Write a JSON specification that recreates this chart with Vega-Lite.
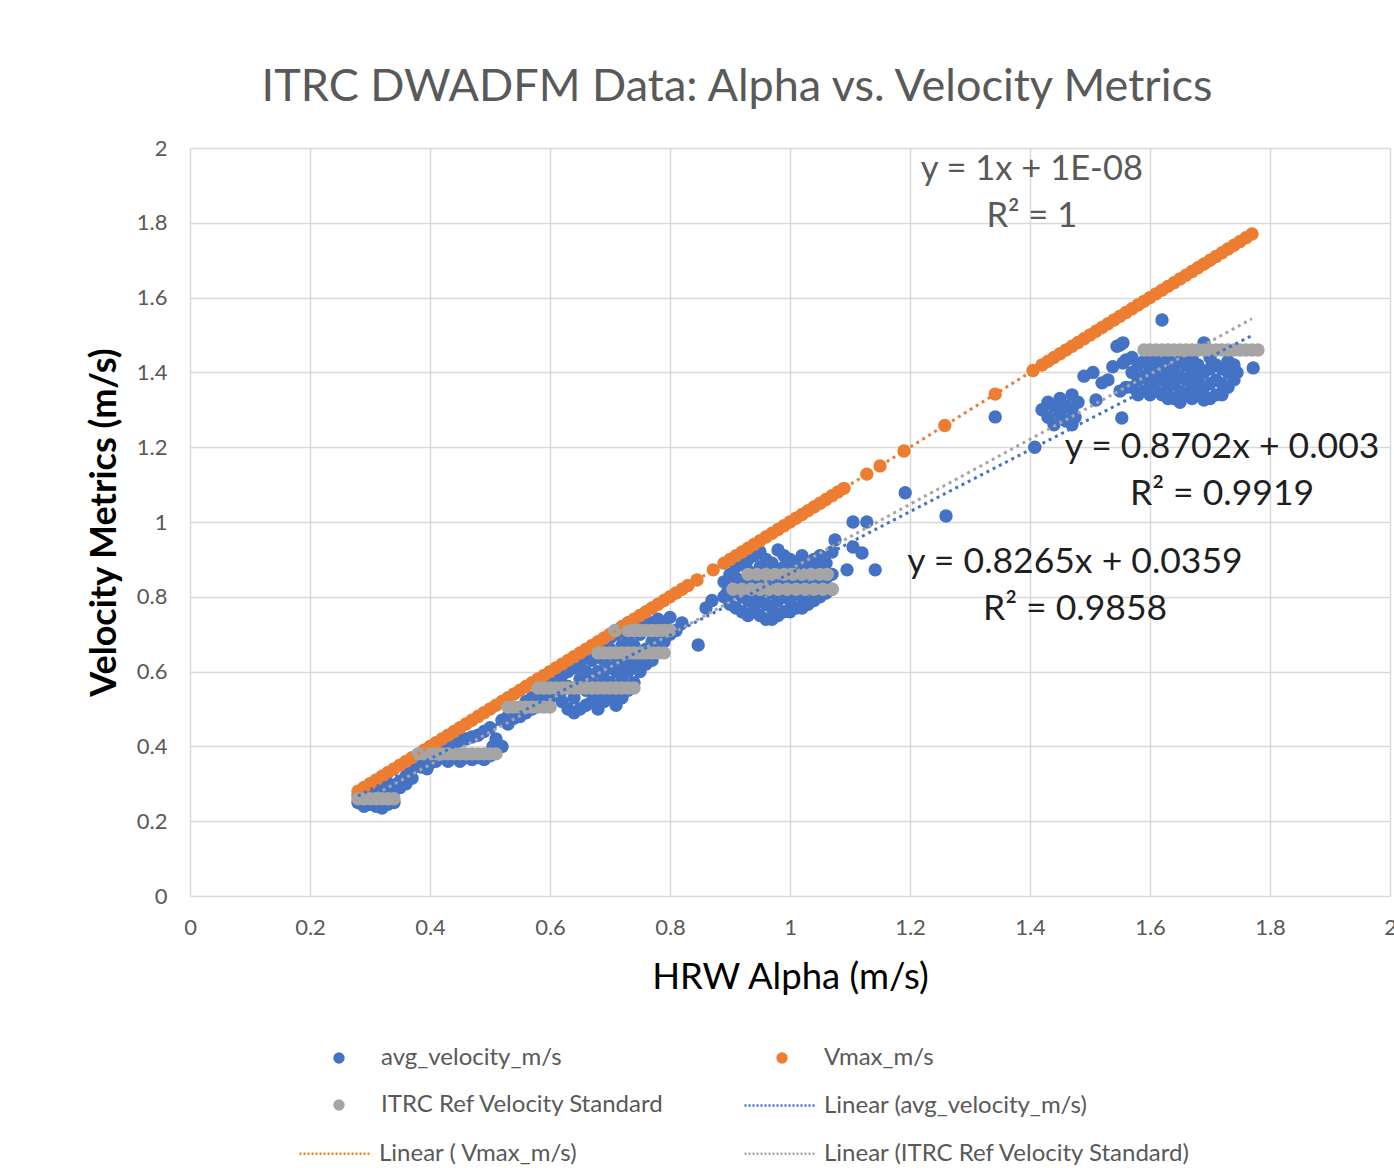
{
"$schema": "https://vega.github.io/schema/vega-lite/v6.json",
"width": 1200,
"height": 748,
"autosize": {"type": "none"},
"padding": {"left": 190, "top": 148, "right": 4, "bottom": 272},
"background": "white",
"title": {"text": "ITRC DWADFM Data: Alpha vs. Velocity Metrics", "font": "Lato", "fontSize": 45, "fontWeight": "normal", "color": "#595959", "anchor": "middle", "dx": -53, "baseline": "alphabetic", "offset": -9},
"datasets": {
"avg": [
{"alpha":0.28,"velocity":0.25},{"alpha":0.28,"velocity":0.27},{"alpha":0.29,"velocity":0.24},{"alpha":0.29,"velocity":0.28},{"alpha":0.30,"velocity":0.245},{"alpha":0.30,"velocity":0.27},{"alpha":0.30,"velocity":0.29},{"alpha":0.31,"velocity":0.24},{"alpha":0.31,"velocity":0.26},{"alpha":0.31,"velocity":0.29},{"alpha":0.32,"velocity":0.235},{"alpha":0.32,"velocity":0.255},{"alpha":0.32,"velocity":0.28},{"alpha":0.33,"velocity":0.245},{"alpha":0.33,"velocity":0.27},{"alpha":0.33,"velocity":0.30},{"alpha":0.34,"velocity":0.25},{"alpha":0.34,"velocity":0.28},{"alpha":0.345,"velocity":0.30},{"alpha":0.35,"velocity":0.29},{"alpha":0.355,"velocity":0.31},{"alpha":0.36,"velocity":0.30},{"alpha":0.36,"velocity":0.32},{"alpha":0.365,"velocity":0.33},{"alpha":0.37,"velocity":0.315},{"alpha":0.37,"velocity":0.34},{"alpha":0.375,"velocity":0.35},
{"alpha":0.38,"velocity":0.36},{"alpha":0.385,"velocity":0.345},{"alpha":0.39,"velocity":0.37},{"alpha":0.395,"velocity":0.34},{"alpha":0.40,"velocity":0.355},{"alpha":0.40,"velocity":0.39},{"alpha":0.41,"velocity":0.36},{"alpha":0.41,"velocity":0.40},{"alpha":0.42,"velocity":0.37},{"alpha":0.42,"velocity":0.395},{"alpha":0.43,"velocity":0.36},{"alpha":0.43,"velocity":0.41},{"alpha":0.44,"velocity":0.37},{"alpha":0.44,"velocity":0.40},{"alpha":0.45,"velocity":0.36},{"alpha":0.45,"velocity":0.415},{"alpha":0.46,"velocity":0.37},{"alpha":0.46,"velocity":0.42},{"alpha":0.47,"velocity":0.365},{"alpha":0.47,"velocity":0.425},{"alpha":0.48,"velocity":0.37},{"alpha":0.48,"velocity":0.43},{"alpha":0.49,"velocity":0.365},{"alpha":0.49,"velocity":0.44},{"alpha":0.50,"velocity":0.375},{"alpha":0.50,"velocity":0.45},{"alpha":0.505,"velocity":0.40},{"alpha":0.51,"velocity":0.42},{"alpha":0.52,"velocity":0.40},
{"alpha":0.52,"velocity":0.47},{"alpha":0.53,"velocity":0.48},{"alpha":0.53,"velocity":0.46},{"alpha":0.54,"velocity":0.49},{"alpha":0.54,"velocity":0.475},{"alpha":0.55,"velocity":0.50},{"alpha":0.55,"velocity":0.48},{"alpha":0.56,"velocity":0.49},{"alpha":0.56,"velocity":0.52},{"alpha":0.57,"velocity":0.50},{"alpha":0.57,"velocity":0.53},{"alpha":0.58,"velocity":0.51},{"alpha":0.58,"velocity":0.54},{"alpha":0.59,"velocity":0.52},{"alpha":0.59,"velocity":0.55},{"alpha":0.60,"velocity":0.53},{"alpha":0.60,"velocity":0.57},{"alpha":0.61,"velocity":0.54},{"alpha":0.61,"velocity":0.58},{"alpha":0.62,"velocity":0.55},{"alpha":0.62,"velocity":0.59},{"alpha":0.62,"velocity":0.52},
{"alpha":0.63,"velocity":0.50},{"alpha":0.63,"velocity":0.56},{"alpha":0.63,"velocity":0.60},{"alpha":0.64,"velocity":0.49},{"alpha":0.64,"velocity":0.53},{"alpha":0.64,"velocity":0.61},{"alpha":0.65,"velocity":0.50},{"alpha":0.65,"velocity":0.58},{"alpha":0.65,"velocity":0.62},{"alpha":0.66,"velocity":0.51},{"alpha":0.66,"velocity":0.55},{"alpha":0.66,"velocity":0.60},{"alpha":0.66,"velocity":0.64},{"alpha":0.67,"velocity":0.52},{"alpha":0.67,"velocity":0.57},{"alpha":0.67,"velocity":0.63},{"alpha":0.68,"velocity":0.50},{"alpha":0.68,"velocity":0.54},{"alpha":0.68,"velocity":0.60},{"alpha":0.68,"velocity":0.66},{"alpha":0.69,"velocity":0.52},{"alpha":0.69,"velocity":0.58},{"alpha":0.69,"velocity":0.63},{"alpha":0.69,"velocity":0.68},{"alpha":0.70,"velocity":0.53},{"alpha":0.70,"velocity":0.57},{"alpha":0.70,"velocity":0.61},{"alpha":0.70,"velocity":0.66},{"alpha":0.70,"velocity":0.69},{"alpha":0.71,"velocity":0.51},{"alpha":0.71,"velocity":0.55},{"alpha":0.71,"velocity":0.60},{"alpha":0.71,"velocity":0.64},{"alpha":0.71,"velocity":0.70},{"alpha":0.72,"velocity":0.53},{"alpha":0.72,"velocity":0.58},{"alpha":0.72,"velocity":0.62},{"alpha":0.72,"velocity":0.67},{"alpha":0.72,"velocity":0.72},{"alpha":0.73,"velocity":0.55},{"alpha":0.73,"velocity":0.60},{"alpha":0.73,"velocity":0.64},{"alpha":0.73,"velocity":0.69},{"alpha":0.73,"velocity":0.73},{"alpha":0.74,"velocity":0.57},{"alpha":0.74,"velocity":0.62},{"alpha":0.74,"velocity":0.67},{"alpha":0.74,"velocity":0.72},{"alpha":0.75,"velocity":0.60},{"alpha":0.75,"velocity":0.64},{"alpha":0.75,"velocity":0.70},{"alpha":0.75,"velocity":0.74},{"alpha":0.76,"velocity":0.62},{"alpha":0.76,"velocity":0.66},{"alpha":0.76,"velocity":0.72},{"alpha":0.77,"velocity":0.63},{"alpha":0.77,"velocity":0.68},{"alpha":0.77,"velocity":0.73},{"alpha":0.78,"velocity":0.66},{"alpha":0.78,"velocity":0.70},{"alpha":0.78,"velocity":0.74},{"alpha":0.79,"velocity":0.68},{"alpha":0.79,"velocity":0.72},{"alpha":0.80,"velocity":0.70},{"alpha":0.80,"velocity":0.745},{"alpha":0.81,"velocity":0.71},{"alpha":0.82,"velocity":0.73},{"alpha":0.847,"velocity":0.671},
{"alpha":0.86,"velocity":0.77},{"alpha":0.87,"velocity":0.79},{"alpha":0.895,"velocity":0.81},
{"alpha":0.89,"velocity":0.80},{"alpha":0.89,"velocity":0.84},{"alpha":0.90,"velocity":0.78},{"alpha":0.90,"velocity":0.82},{"alpha":0.90,"velocity":0.86},{"alpha":0.91,"velocity":0.77},{"alpha":0.91,"velocity":0.81},{"alpha":0.91,"velocity":0.85},{"alpha":0.91,"velocity":0.88},{"alpha":0.92,"velocity":0.76},{"alpha":0.92,"velocity":0.80},{"alpha":0.92,"velocity":0.84},{"alpha":0.92,"velocity":0.89},{"alpha":0.93,"velocity":0.75},{"alpha":0.93,"velocity":0.79},{"alpha":0.93,"velocity":0.83},{"alpha":0.93,"velocity":0.87},{"alpha":0.93,"velocity":0.90},{"alpha":0.94,"velocity":0.77},{"alpha":0.94,"velocity":0.81},{"alpha":0.94,"velocity":0.85},{"alpha":0.94,"velocity":0.91},{"alpha":0.95,"velocity":0.75},{"alpha":0.95,"velocity":0.79},{"alpha":0.95,"velocity":0.83},{"alpha":0.95,"velocity":0.88},{"alpha":0.95,"velocity":0.92},{"alpha":0.96,"velocity":0.74},{"alpha":0.96,"velocity":0.78},{"alpha":0.96,"velocity":0.82},{"alpha":0.96,"velocity":0.86},{"alpha":0.96,"velocity":0.90},{"alpha":0.97,"velocity":0.74},{"alpha":0.97,"velocity":0.77},{"alpha":0.97,"velocity":0.81},{"alpha":0.97,"velocity":0.85},{"alpha":0.97,"velocity":0.89},{"alpha":0.98,"velocity":0.75},{"alpha":0.98,"velocity":0.79},{"alpha":0.98,"velocity":0.83},{"alpha":0.98,"velocity":0.87},{"alpha":0.98,"velocity":0.925},{"alpha":0.99,"velocity":0.76},{"alpha":0.99,"velocity":0.80},{"alpha":0.99,"velocity":0.84},{"alpha":0.99,"velocity":0.88},{"alpha":0.99,"velocity":0.91},{"alpha":1.00,"velocity":0.76},{"alpha":1.00,"velocity":0.79},{"alpha":1.00,"velocity":0.83},{"alpha":1.00,"velocity":0.87},{"alpha":1.00,"velocity":0.90},{"alpha":1.01,"velocity":0.77},{"alpha":1.01,"velocity":0.81},{"alpha":1.01,"velocity":0.85},{"alpha":1.01,"velocity":0.89},{"alpha":1.02,"velocity":0.77},{"alpha":1.02,"velocity":0.80},{"alpha":1.02,"velocity":0.84},{"alpha":1.02,"velocity":0.88},{"alpha":1.02,"velocity":0.91},{"alpha":1.03,"velocity":0.78},{"alpha":1.03,"velocity":0.82},{"alpha":1.03,"velocity":0.86},{"alpha":1.03,"velocity":0.89},{"alpha":1.04,"velocity":0.79},{"alpha":1.04,"velocity":0.83},{"alpha":1.04,"velocity":0.87},{"alpha":1.04,"velocity":0.90},{"alpha":1.05,"velocity":0.80},{"alpha":1.05,"velocity":0.84},{"alpha":1.05,"velocity":0.88},{"alpha":1.05,"velocity":0.91},{"alpha":1.06,"velocity":0.81},{"alpha":1.06,"velocity":0.85},{"alpha":1.06,"velocity":0.89},{"alpha":1.07,"velocity":0.82},{"alpha":1.07,"velocity":0.86},{"alpha":1.07,"velocity":0.92},
{"alpha":1.075,"velocity":0.952},{"alpha":1.095,"velocity":0.872},{"alpha":1.105,"velocity":0.933},{"alpha":1.12,"velocity":0.917},{"alpha":1.142,"velocity":0.872},{"alpha":1.105,"velocity":1.0},{"alpha":1.128,"velocity":1.0},{"alpha":1.192,"velocity":1.078},{"alpha":1.26,"velocity":1.016},{"alpha":1.342,"velocity":1.281},{"alpha":1.408,"velocity":1.2},
{"alpha":1.42,"velocity":1.30},{"alpha":1.43,"velocity":1.32},{"alpha":1.43,"velocity":1.28},{"alpha":1.44,"velocity":1.26},{"alpha":1.44,"velocity":1.31},{"alpha":1.45,"velocity":1.29},{"alpha":1.45,"velocity":1.33},{"alpha":1.46,"velocity":1.27},{"alpha":1.46,"velocity":1.31},{"alpha":1.47,"velocity":1.26},{"alpha":1.47,"velocity":1.30},{"alpha":1.47,"velocity":1.34},{"alpha":1.475,"velocity":1.28},{"alpha":1.48,"velocity":1.32},{"alpha":1.49,"velocity":1.39},{"alpha":1.505,"velocity":1.40},{"alpha":1.51,"velocity":1.326},{"alpha":1.52,"velocity":1.372},{"alpha":1.53,"velocity":1.38},{"alpha":1.538,"velocity":1.415},{"alpha":1.545,"velocity":1.47},{"alpha":1.55,"velocity":1.473},{"alpha":1.553,"velocity":1.278},{"alpha":1.555,"velocity":1.425},{"alpha":1.56,"velocity":1.433},{"alpha":1.555,"velocity":1.479},{"alpha":1.56,"velocity":1.36},{"alpha":1.55,"velocity":1.35},
{"alpha":1.57,"velocity":1.36},{"alpha":1.57,"velocity":1.40},{"alpha":1.57,"velocity":1.44},{"alpha":1.58,"velocity":1.34},{"alpha":1.58,"velocity":1.38},{"alpha":1.58,"velocity":1.42},{"alpha":1.59,"velocity":1.35},{"alpha":1.59,"velocity":1.39},{"alpha":1.59,"velocity":1.43},{"alpha":1.60,"velocity":1.34},{"alpha":1.60,"velocity":1.37},{"alpha":1.60,"velocity":1.41},{"alpha":1.60,"velocity":1.45},{"alpha":1.61,"velocity":1.35},{"alpha":1.61,"velocity":1.39},{"alpha":1.61,"velocity":1.43},{"alpha":1.62,"velocity":1.34},{"alpha":1.62,"velocity":1.38},{"alpha":1.62,"velocity":1.42},{"alpha":1.62,"velocity":1.54},{"alpha":1.63,"velocity":1.33},{"alpha":1.63,"velocity":1.36},{"alpha":1.63,"velocity":1.40},{"alpha":1.63,"velocity":1.44},{"alpha":1.64,"velocity":1.33},{"alpha":1.64,"velocity":1.37},{"alpha":1.64,"velocity":1.41},{"alpha":1.65,"velocity":1.32},{"alpha":1.65,"velocity":1.35},{"alpha":1.65,"velocity":1.39},{"alpha":1.65,"velocity":1.43},{"alpha":1.66,"velocity":1.34},{"alpha":1.66,"velocity":1.38},{"alpha":1.66,"velocity":1.42},{"alpha":1.67,"velocity":1.33},{"alpha":1.67,"velocity":1.36},{"alpha":1.67,"velocity":1.40},{"alpha":1.67,"velocity":1.44},{"alpha":1.68,"velocity":1.34},{"alpha":1.68,"velocity":1.38},{"alpha":1.68,"velocity":1.42},{"alpha":1.69,"velocity":1.326},{"alpha":1.69,"velocity":1.36},{"alpha":1.69,"velocity":1.40},{"alpha":1.69,"velocity":1.479},{"alpha":1.70,"velocity":1.33},{"alpha":1.70,"velocity":1.37},{"alpha":1.70,"velocity":1.41},{"alpha":1.70,"velocity":1.44},{"alpha":1.71,"velocity":1.34},{"alpha":1.71,"velocity":1.38},{"alpha":1.71,"velocity":1.42},{"alpha":1.72,"velocity":1.34},{"alpha":1.72,"velocity":1.37},{"alpha":1.72,"velocity":1.41},{"alpha":1.73,"velocity":1.36},{"alpha":1.73,"velocity":1.40},{"alpha":1.73,"velocity":1.43},{"alpha":1.74,"velocity":1.38},{"alpha":1.74,"velocity":1.42},{"alpha":1.745,"velocity":1.40},{"alpha":1.772,"velocity":1.412}
],
"vmax": [
{"alpha":0.28,"velocity":0.28},{"alpha":0.29,"velocity":0.29},{"alpha":0.30,"velocity":0.30},{"alpha":0.31,"velocity":0.31},{"alpha":0.32,"velocity":0.32},{"alpha":0.33,"velocity":0.33},{"alpha":0.34,"velocity":0.34},{"alpha":0.35,"velocity":0.35},{"alpha":0.36,"velocity":0.36},{"alpha":0.37,"velocity":0.37},
{"alpha":0.39,"velocity":0.39},{"alpha":0.40,"velocity":0.40},{"alpha":0.41,"velocity":0.41},{"alpha":0.42,"velocity":0.42},{"alpha":0.43,"velocity":0.43},{"alpha":0.44,"velocity":0.44},{"alpha":0.45,"velocity":0.45},{"alpha":0.46,"velocity":0.46},{"alpha":0.47,"velocity":0.47},{"alpha":0.48,"velocity":0.48},{"alpha":0.49,"velocity":0.49},{"alpha":0.50,"velocity":0.50},{"alpha":0.51,"velocity":0.51},{"alpha":0.52,"velocity":0.52},{"alpha":0.53,"velocity":0.53},{"alpha":0.54,"velocity":0.54},{"alpha":0.55,"velocity":0.55},{"alpha":0.56,"velocity":0.56},{"alpha":0.57,"velocity":0.57},{"alpha":0.58,"velocity":0.58},{"alpha":0.59,"velocity":0.59},{"alpha":0.60,"velocity":0.60},{"alpha":0.61,"velocity":0.61},{"alpha":0.62,"velocity":0.62},{"alpha":0.63,"velocity":0.63},{"alpha":0.64,"velocity":0.64},{"alpha":0.65,"velocity":0.65},{"alpha":0.66,"velocity":0.66},{"alpha":0.67,"velocity":0.67},{"alpha":0.68,"velocity":0.68},{"alpha":0.69,"velocity":0.69},{"alpha":0.70,"velocity":0.70},{"alpha":0.71,"velocity":0.71},{"alpha":0.72,"velocity":0.72},{"alpha":0.73,"velocity":0.73},{"alpha":0.74,"velocity":0.74},{"alpha":0.75,"velocity":0.75},{"alpha":0.76,"velocity":0.76},{"alpha":0.77,"velocity":0.77},{"alpha":0.78,"velocity":0.78},{"alpha":0.79,"velocity":0.79},{"alpha":0.80,"velocity":0.80},{"alpha":0.81,"velocity":0.81},{"alpha":0.82,"velocity":0.82},{"alpha":0.83,"velocity":0.83},
{"alpha":0.845,"velocity":0.845},{"alpha":0.872,"velocity":0.872},
{"alpha":0.89,"velocity":0.89},{"alpha":0.90,"velocity":0.90},{"alpha":0.91,"velocity":0.91},{"alpha":0.92,"velocity":0.92},{"alpha":0.93,"velocity":0.93},{"alpha":0.94,"velocity":0.94},{"alpha":0.95,"velocity":0.95},{"alpha":0.96,"velocity":0.96},{"alpha":0.97,"velocity":0.97},{"alpha":0.98,"velocity":0.98},{"alpha":0.99,"velocity":0.99},{"alpha":1.00,"velocity":1.00},{"alpha":1.01,"velocity":1.01},{"alpha":1.02,"velocity":1.02},{"alpha":1.03,"velocity":1.03},{"alpha":1.04,"velocity":1.04},{"alpha":1.05,"velocity":1.05},{"alpha":1.06,"velocity":1.06},{"alpha":1.07,"velocity":1.07},{"alpha":1.08,"velocity":1.08},{"alpha":1.09,"velocity":1.09},
{"alpha":1.128,"velocity":1.128},{"alpha":1.15,"velocity":1.15},{"alpha":1.19,"velocity":1.19},{"alpha":1.258,"velocity":1.258},{"alpha":1.342,"velocity":1.342},{"alpha":1.405,"velocity":1.405},
{"alpha":1.42,"velocity":1.42},{"alpha":1.43,"velocity":1.43},{"alpha":1.44,"velocity":1.44},{"alpha":1.45,"velocity":1.45},{"alpha":1.46,"velocity":1.46},{"alpha":1.47,"velocity":1.47},{"alpha":1.48,"velocity":1.48},{"alpha":1.49,"velocity":1.49},{"alpha":1.50,"velocity":1.50},{"alpha":1.51,"velocity":1.51},{"alpha":1.52,"velocity":1.52},{"alpha":1.53,"velocity":1.53},{"alpha":1.54,"velocity":1.54},{"alpha":1.55,"velocity":1.55},{"alpha":1.56,"velocity":1.56},{"alpha":1.57,"velocity":1.57},{"alpha":1.58,"velocity":1.58},{"alpha":1.59,"velocity":1.59},{"alpha":1.60,"velocity":1.60},{"alpha":1.61,"velocity":1.61},{"alpha":1.62,"velocity":1.62},{"alpha":1.63,"velocity":1.63},{"alpha":1.64,"velocity":1.64},{"alpha":1.65,"velocity":1.65},{"alpha":1.66,"velocity":1.66},{"alpha":1.67,"velocity":1.67},{"alpha":1.68,"velocity":1.68},{"alpha":1.69,"velocity":1.69},{"alpha":1.70,"velocity":1.70},{"alpha":1.71,"velocity":1.71},{"alpha":1.72,"velocity":1.72},{"alpha":1.73,"velocity":1.73},{"alpha":1.74,"velocity":1.74},{"alpha":1.75,"velocity":1.75},{"alpha":1.76,"velocity":1.76},{"alpha":1.77,"velocity":1.77}
],
"itrc": [
{"alpha":0.28,"velocity":0.26},{"alpha":0.29,"velocity":0.26},{"alpha":0.30,"velocity":0.26},{"alpha":0.31,"velocity":0.26},{"alpha":0.32,"velocity":0.26},{"alpha":0.33,"velocity":0.26},{"alpha":0.34,"velocity":0.26},
{"alpha":0.38,"velocity":0.38},{"alpha":0.39,"velocity":0.38},{"alpha":0.40,"velocity":0.38},{"alpha":0.41,"velocity":0.38},{"alpha":0.42,"velocity":0.38},{"alpha":0.43,"velocity":0.38},{"alpha":0.44,"velocity":0.38},{"alpha":0.45,"velocity":0.38},{"alpha":0.46,"velocity":0.38},{"alpha":0.47,"velocity":0.38},{"alpha":0.48,"velocity":0.38},{"alpha":0.49,"velocity":0.38},{"alpha":0.50,"velocity":0.38},{"alpha":0.51,"velocity":0.38},
{"alpha":0.53,"velocity":0.505},{"alpha":0.54,"velocity":0.505},{"alpha":0.55,"velocity":0.505},{"alpha":0.56,"velocity":0.505},{"alpha":0.57,"velocity":0.505},{"alpha":0.58,"velocity":0.505},{"alpha":0.59,"velocity":0.505},{"alpha":0.60,"velocity":0.505},
{"alpha":0.58,"velocity":0.556},{"alpha":0.59,"velocity":0.556},{"alpha":0.60,"velocity":0.556},{"alpha":0.61,"velocity":0.556},{"alpha":0.62,"velocity":0.556},{"alpha":0.63,"velocity":0.556},{"alpha":0.64,"velocity":0.556},{"alpha":0.65,"velocity":0.556},{"alpha":0.66,"velocity":0.556},{"alpha":0.67,"velocity":0.556},{"alpha":0.68,"velocity":0.556},{"alpha":0.69,"velocity":0.556},{"alpha":0.70,"velocity":0.556},{"alpha":0.71,"velocity":0.556},{"alpha":0.72,"velocity":0.556},{"alpha":0.73,"velocity":0.556},{"alpha":0.74,"velocity":0.556},
{"alpha":0.68,"velocity":0.65},{"alpha":0.69,"velocity":0.65},{"alpha":0.70,"velocity":0.65},{"alpha":0.71,"velocity":0.65},{"alpha":0.72,"velocity":0.65},{"alpha":0.73,"velocity":0.65},{"alpha":0.74,"velocity":0.65},{"alpha":0.75,"velocity":0.65},{"alpha":0.76,"velocity":0.65},{"alpha":0.77,"velocity":0.65},{"alpha":0.78,"velocity":0.65},{"alpha":0.79,"velocity":0.65},
{"alpha":0.708,"velocity":0.71},{"alpha":0.73,"velocity":0.71},{"alpha":0.74,"velocity":0.71},{"alpha":0.75,"velocity":0.71},{"alpha":0.76,"velocity":0.71},{"alpha":0.77,"velocity":0.71},{"alpha":0.78,"velocity":0.71},{"alpha":0.79,"velocity":0.71},{"alpha":0.80,"velocity":0.71},
{"alpha":0.905,"velocity":0.82},{"alpha":0.92,"velocity":0.82},{"alpha":0.935,"velocity":0.82},{"alpha":0.95,"velocity":0.82},{"alpha":0.965,"velocity":0.82},{"alpha":0.98,"velocity":0.82},{"alpha":0.995,"velocity":0.82},{"alpha":1.01,"velocity":0.82},{"alpha":1.025,"velocity":0.82},{"alpha":1.04,"velocity":0.82},{"alpha":1.055,"velocity":0.82},{"alpha":1.07,"velocity":0.82},
{"alpha":0.93,"velocity":0.86},{"alpha":0.945,"velocity":0.86},{"alpha":0.96,"velocity":0.86},{"alpha":0.975,"velocity":0.86},{"alpha":0.99,"velocity":0.86},{"alpha":1.005,"velocity":0.86},{"alpha":1.02,"velocity":0.86},{"alpha":1.035,"velocity":0.86},{"alpha":1.05,"velocity":0.86},{"alpha":1.062,"velocity":0.86},
{"alpha":1.59,"velocity":1.46},{"alpha":1.60,"velocity":1.46},{"alpha":1.61,"velocity":1.46},{"alpha":1.62,"velocity":1.46},{"alpha":1.63,"velocity":1.46},{"alpha":1.64,"velocity":1.46},{"alpha":1.65,"velocity":1.46},{"alpha":1.66,"velocity":1.46},{"alpha":1.67,"velocity":1.46},{"alpha":1.68,"velocity":1.46},{"alpha":1.69,"velocity":1.46},{"alpha":1.70,"velocity":1.46},{"alpha":1.71,"velocity":1.46},{"alpha":1.72,"velocity":1.46},{"alpha":1.73,"velocity":1.46},{"alpha":1.74,"velocity":1.46},{"alpha":1.75,"velocity":1.46},{"alpha":1.76,"velocity":1.46},{"alpha":1.77,"velocity":1.46},{"alpha":1.78,"velocity":1.46}
],
"trend_avg": [{"alpha":0.28,"velocity":0.2673},{"alpha":1.77,"velocity":1.4988}],
"trend_vmax": [{"alpha":0.28,"velocity":0.28},{"alpha":1.77,"velocity":1.77}],
"trend_itrc": [{"alpha":0.28,"velocity":0.2467},{"alpha":1.77,"velocity":1.5433}],
"eq_gray": [
{"alpha":1.403,"velocity":1.941,"label":"y = 1x + 1E-08"},
{"alpha":1.403,"velocity":1.816,"label":"R² = 1"}
],
"eq_dark": [
{"alpha":1.72,"velocity":1.2005,"label":"y = 0.8702x + 0.003"},
{"alpha":1.72,"velocity":1.075,"label":"R² = 0.9919"},
{"alpha":1.475,"velocity":0.893,"label":"y = 0.8265x + 0.0359"},
{"alpha":1.475,"velocity":0.767,"label":"R² = 0.9858"}
]
},
"encoding": {
"x": {"field": "alpha", "type": "quantitative", "scale": {"domain": [0, 2], "nice": false},
 "axis": {"title": "HRW Alpha (m/s)", "values": [0,0.2,0.4,0.6,0.8,1,1.2,1.4,1.6,1.8,2], "format": ".1~f", "titleFontSize": 36.5, "titleFontWeight": "normal", "labelPadding": 21, "titlePadding": 21}},
"y": {"field": "velocity", "type": "quantitative", "scale": {"domain": [0, 2], "nice": false},
 "axis": {"title": "Velocity Metrics (m/s)", "values": [0,0.2,0.4,0.6,0.8,1,1.2,1.4,1.6,1.8,2], "format": ".1~f", "titleFontSize": 36, "titleFontWeight": "bold", "labelPadding": 23, "titlePadding": 13}}
},
"layer": [
{"data": {"name": "avg"}, "mark": {"type": "circle", "size": 180, "opacity": 1},
 "encoding": {"fill": {"datum": "avg_velocity_m/s", "type": "nominal",
  "scale": {"domain": ["avg_velocity_m/s", "Vmax_m/s", "ITRC Ref Velocity Standard"], "range": ["#4472c4", "#ed7d31", "#a5a5a5"]},
  "legend": {"orient": "none", "legendX": 137, "legendY": 898, "columns": 2, "direction": "horizontal", "title": null,
   "symbolType": "circle", "symbolSize": 130, "labelOffset": 30, "columnPadding": 105, "rowPadding": 23}}}},
{"data": {"name": "vmax"}, "mark": {"type": "circle", "size": 180, "opacity": 1},
 "encoding": {"fill": {"datum": "Vmax_m/s", "type": "nominal"}}},
{"data": {"name": "itrc"}, "mark": {"type": "circle", "size": 180, "opacity": 1},
 "encoding": {"fill": {"datum": "ITRC Ref Velocity Standard", "type": "nominal"}}},
{"data": {"name": "trend_avg"}, "mark": {"type": "line", "strokeWidth": 3, "strokeDash": [3, 4]},
 "encoding": {"stroke": {"datum": "Linear (avg_velocity_m/s)", "type": "nominal",
  "scale": {"domain": ["Linear (avg_velocity_m/s)"], "range": ["#4472c4"]},
  "legend": {"orient": "none", "legendX": 553, "legendY": 920, "title": null,
   "symbolType": "stroke", "symbolSize": 5184, "symbolStrokeWidth": 2.5, "symbolDash": [2, 2], "labelOffset": 6}}}},
{"data": {"name": "trend_vmax"}, "mark": {"type": "line", "strokeWidth": 3, "strokeDash": [3, 4]},
 "encoding": {"color": {"datum": "Linear ( Vmax_m/s)", "type": "nominal",
  "scale": {"domain": ["Linear ( Vmax_m/s)", "Linear (ITRC Ref Velocity Standard)"], "range": ["#ed7d31", "#a5a5a5"]},
  "legend": {"orient": "none", "legendX": 108, "legendY": 968, "columns": 2, "direction": "horizontal", "title": null,
   "symbolType": "stroke", "symbolSize": 5184, "symbolStrokeWidth": 2.5, "symbolDash": [2, 2], "labelOffset": 6, "columnPadding": 160}}}},
{"data": {"name": "trend_itrc"}, "mark": {"type": "line", "strokeWidth": 3, "strokeDash": [3, 4]},
 "encoding": {"color": {"datum": "Linear (ITRC Ref Velocity Standard)", "type": "nominal"}}},
{"data": {"name": "eq_gray"}, "mark": {"type": "text", "font": "Lato", "fontSize": 34.5, "color": "#595959", "align": "center", "baseline": "middle"},
 "encoding": {"text": {"field": "label"}}},
{"data": {"name": "eq_dark"}, "mark": {"type": "text", "font": "Lato", "fontSize": 35.5, "color": "#1f1f1f", "align": "center", "baseline": "middle"},
 "encoding": {"text": {"field": "label"}}}
],
"config": {
 "view": {"stroke": null},
 "axis": {"grid": true, "gridColor": "#d9d9d9", "gridWidth": 1.5, "domain": false, "ticks": false, "labelFont": "Lato", "labelFontSize": 22, "labelColor": "#595959", "titleFont": "Lato", "titleColor": "#000000", "labelFlush": false, "labelOverlap": false},
 "legend": {"labelFont": "Lato", "labelFontSize": 24, "labelColor": "#595959", "labelLimit": 600, "symbolOpacity": 1}
}
}
